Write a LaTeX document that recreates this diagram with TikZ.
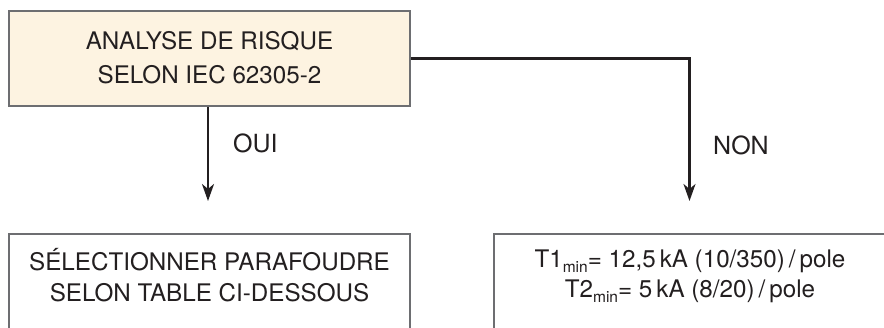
\documentclass[tikz,border=0pt]{standalone}
\usepackage{fontspec}
\setmainfont{TeX Gyre Heros}
\usetikzlibrary{arrows.meta}
\definecolor{boxfill}{HTML}{FDF3E1}
\definecolor{boxline}{HTML}{6D6E71}
\definecolor{ink}{HTML}{231F20}
\newcommand{\subsc}[1]{\raisebox{-5.5pt}{\fontsize{15.5}{15.5}\selectfont #1}}
\tikzset{
  box/.style={draw=boxline, line width=2.4pt, rectangle, inner sep=0pt},
  boxtext/.style={align=center, text=ink, font=\fontsize{24.2}{33.5}\selectfont, inner sep=0pt},
  flow/.style={draw=ink, line width=2.2pt, -{Stealth[length=17pt, width=12pt, inset=5pt]}},
  answer/.style={text=ink, font=\fontsize{25}{28}\selectfont, anchor=west, inner sep=0pt}
}
\begin{document}
\begin{tikzpicture}[x=1pt, y=1pt]
  % page frame; the lower boxes run past its bottom and right edges
  \clip (0,0) rectangle (884,327);
  \fill[white] (0,0) rectangle (884,327);

  % decision box
  \node[box, fill=boxfill, minimum width=401, minimum height=95] (top) at (209.5,268.5) {};
  \node[boxtext] (toptxt) at (209.5,269.5) {ANALYSE DE RISQUE\\SELON IEC 62305-2};

  % outcome boxes
  \node[box, anchor=north, minimum width=401, minimum height=140] (sel) at (209.5,94) {};
  \node[boxtext, font=\fontsize{24.2}{31}\selectfont] (seltxt) at (209.5,52) {SÉLECTIONNER PARAFOUDRE\\SELON TABLE CI-DESSOUS};

  \node[box, anchor=north west, minimum width=420, minimum height=140] (res) at (493,94) {};
  \node[boxtext, font=\fontsize{24.2}{30}\selectfont] (restxt) at (690,51) {T1\subsc{min}= 12,5\,kA (10/350)\,/\,pole\\T2\subsc{min}= 5\,kA (8/20)\,/\,pole};

  % arrow ends
  \coordinate (ouiend) at (208,126);
  \coordinate (nonend) at (689.5,126);

  % connectors
  \draw[flow] (top.south -| ouiend) -- (ouiend);
  \draw[flow] (top.east) -| (nonend);

  % answer labels
  \node[answer] (oui) at (233,184) {OUI};
  \node[answer] (non) at (713,182) {NON};
\end{tikzpicture}
\end{document}
